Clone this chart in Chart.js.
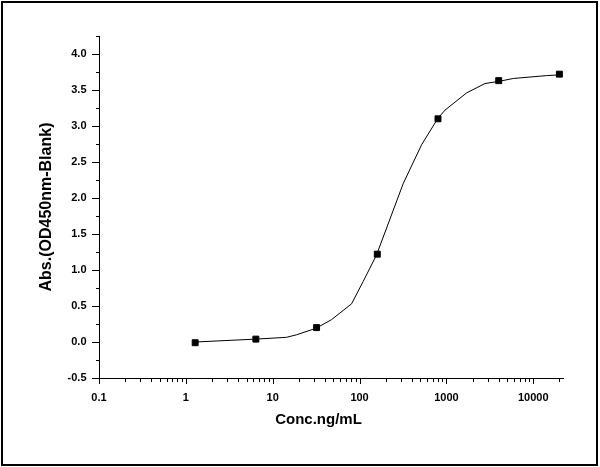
<!DOCTYPE html>
<html>
<head>
<meta charset="utf-8">
<script src="https://cdn.jsdelivr.net/npm/chart.js@4/dist/chart.umd.min.js"></script>
<style>
	body { margin: 0; background: #fff; }
	#frame { position: absolute; left: 1px; top: 1px; width: 597px; height: 465px; box-sizing: border-box; border: 2px solid #000; }
	#canvas { position: absolute; left: 0; top: 0; }
</style>
</head>
<body>
<div id="frame"></div>
<canvas id="canvas" width="600" height="467"></canvas>
<script>
// measured standards (ng/mL) and blank-corrected OD450
const concentrations = [1.28, 6.4, 32, 160, 800, 4000, 20000];
const absorbance = [-0.01, 0.04, 0.2, 1.22, 3.1, 3.63, 3.72];

// fitted curve
const fitConc = [1.28, 6.38, 14.4, 18.8, 31.4, 47.5, 80.9, 110, 157, 318, 518, 792, 962, 1710, 2780, 4030, 5890, 14260, 20000];
const fitAbs = [0.0, 0.04, 0.065, 0.1, 0.19, 0.31, 0.53, 0.84, 1.21, 2.2, 2.74, 3.1, 3.22, 3.46, 3.59, 3.62, 3.66, 3.7, 3.71];

const xTickValues = [0.1, 1, 10, 100, 1000, 10000];
const yTickValues = [-0.5, 0, 0.5, 1, 1.5, 2, 2.5, 3, 3.5, 4];

Chart.defaults.font.family = "'Liberation Sans', Arial, sans-serif";
Chart.defaults.color = "#000";

// Origin-style outward ticks, long on majors and short on minors
const axisTicks = {
	id: "axisTicks",
	afterDraw(chart) {
		const { ctx, chartArea, scales } = chart;
		const x = scales.x;
		const y = scales.y;
		ctx.save();
		ctx.strokeStyle = "#000";
		ctx.lineWidth = 1;
		ctx.beginPath();
		for (let i = 0; i <= 19; i++) {
			const v = -0.5 + i * 0.25;
			const py = Math.round(y.getPixelForValue(v)) + 0.5;
			const len = i % 2 === 0 ? 7 : 3;
			ctx.moveTo(chartArea.left - len, py);
			ctx.lineTo(chartArea.left, py);
		}
		for (let e = -1; e <= 4; e++) {
			for (let k = 1; k <= 9; k++) {
				const v = k * Math.pow(10, e);
				if (v > x.max) break;
				const px = Math.round(x.getPixelForValue(v)) + 0.5;
				const len = k === 1 ? 6 : 4;
				ctx.moveTo(px, chartArea.bottom);
				ctx.lineTo(px, chartArea.bottom + len);
			}
		}
		ctx.stroke();
		ctx.restore();
	},
};

new Chart(document.getElementById("canvas").getContext("2d"), {
	type: "scatter",
	data: {
		datasets: [
			{
				label: "Standards",
				data: concentrations.map((c, i) => ({ x: c, y: absorbance[i] })),
				pointStyle: "rect",
				pointRadius: 4.2,
				backgroundColor: "#000",
				borderColor: "#000",
				borderWidth: 1,
			},
			{
				label: "Fit",
				data: fitConc.map((c, i) => ({ x: c, y: fitAbs[i] })),
				showLine: true,
				pointRadius: 0,
				borderColor: "#000",
				borderWidth: 1,
				tension: 0,
			},
		],
	},
	options: {
		responsive: false,
		animation: false,
		layout: { padding: { left: 0, top: 36, right: 37, bottom: 0 } },
		plugins: { legend: { display: false }, tooltip: { enabled: false } },
		scales: {
			x: {
				type: "logarithmic",
				min: 0.1,
				max: 22000,
				afterBuildTicks: (scale) => {
					scale.ticks = xTickValues.map((v) => ({ value: v }));
				},
				afterFit: (scale) => {
					scale.height = 89;
				},
				grid: { display: false, drawTicks: false },
				border: { display: true, color: "#000", width: 1 },
				ticks: {
					padding: 13,
					maxRotation: 0,
					autoSkip: false,
					font: { size: 11, weight: "bold" },
					callback: (v) => String(v),
				},
				title: {
					display: true,
					text: "Conc.ng/mL      ",
					font: { size: 15, weight: "bold" },
					padding: { top: 0, bottom: 38 },
				},
			},
			y: {
				min: -0.5,
				max: 4.25,
				afterBuildTicks: (scale) => {
					scale.ticks = yTickValues.map((v) => ({ value: v }));
				},
				afterFit: (scale) => {
					scale.width = 99;
				},
				grid: { display: false, drawTicks: false },
				border: { display: true, color: "#000", width: 1 },
				ticks: {
					padding: 12.5,
					font: { size: 11, weight: "bold" },
					callback: (v) => v.toFixed(1),
				},
				title: {
					display: true,
					text: "Abs.(OD450nm-Blank)",
					font: { size: 16, weight: "bold" },
					padding: { top: 37, bottom: 0 },
				},
			},
		},
	},
	plugins: [axisTicks],
});
</script>
</body>
</html>
